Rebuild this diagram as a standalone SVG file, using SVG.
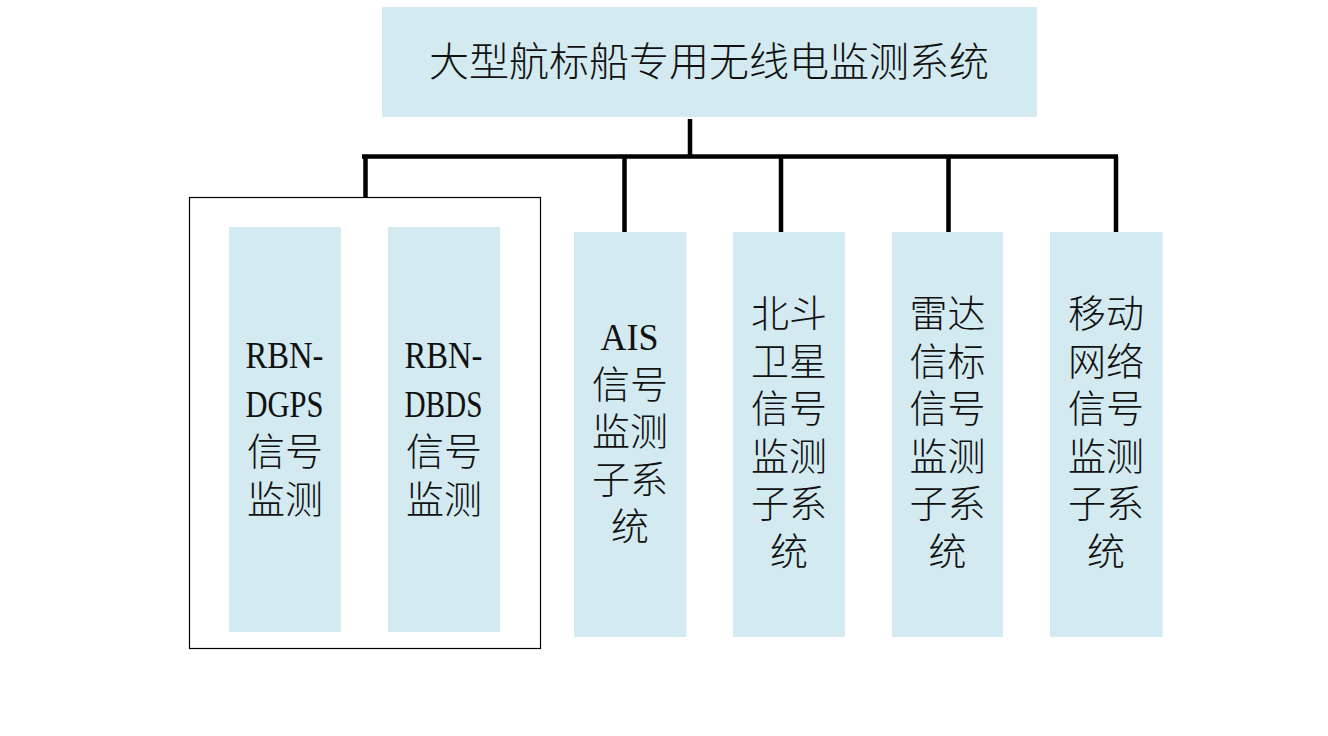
<svg xmlns="http://www.w3.org/2000/svg" width="1328" height="736" viewBox="0 0 1328 736">
<style>
.box{fill:#D2EAF0;stroke:none}
.t{font-family:"Liberation Serif","Noto Sans CJK SC",serif;font-size:38px;font-weight:300;fill:#111;text-anchor:middle}
.tt{font-family:"Liberation Serif","Noto Sans CJK SC",serif;font-size:40px;font-weight:300;fill:#111;text-anchor:middle}
.ln{stroke:#000;stroke-width:4.5;fill:none}
</style>
<rect width="1328" height="736" fill="#fff"/>
<g id="connectors">
<line class="ln" x1="690" y1="119" x2="690" y2="156.5"/>
<line class="ln" x1="362" y1="156.5" x2="1118" y2="156.5"/>
<line class="ln" x1="365.5" y1="156.5" x2="365.5" y2="198"/>
<line class="ln" x1="624.5" y1="156.5" x2="624.5" y2="236"/>
<line class="ln" x1="781" y1="156.5" x2="781" y2="236"/>
<line class="ln" x1="948.5" y1="156.5" x2="948.5" y2="236"/>
<line class="ln" x1="1116" y1="156.5" x2="1116" y2="236"/>
</g>
<g id="root">
<rect class="box" x="382" y="7" width="655" height="110"/>
<text class="tt" x="709" y="76">大型航标船专用无线电监测系统</text>
</g>
<g id="group-rbn">
<rect x="189.5" y="197.5" width="351" height="451" fill="none" stroke="#000" stroke-width="1.2"/>
</g>
<g id="node-dgps">
<rect class="box" x="229" y="227" width="112" height="405"/>
<text class="t" x="284.5" y="368" textLength="78" lengthAdjust="spacingAndGlyphs">RBN-</text>
<text class="t" x="284.5" y="416.5" textLength="78" lengthAdjust="spacingAndGlyphs">DGPS</text>
<text class="t" x="285" y="465">信号</text>
<text class="t" x="285" y="513">监测</text>
</g>
<g id="node-dbds">
<rect class="box" x="388" y="227" width="112" height="405"/>
<text class="t" x="443.5" y="368" textLength="78" lengthAdjust="spacingAndGlyphs">RBN-</text>
<text class="t" x="443.5" y="416.5" textLength="78" lengthAdjust="spacingAndGlyphs">DBDS</text>
<text class="t" x="444" y="465">信号</text>
<text class="t" x="444" y="513">监测</text>
</g>
<g id="node-ais">
<rect class="box" x="574" y="232" width="112.5" height="405"/>
<text class="t" x="629.5" y="350" textLength="58" lengthAdjust="spacingAndGlyphs">AIS</text>
<text class="t" x="630" y="397.5">信号</text>
<text class="t" x="630" y="445">监测</text>
<text class="t" x="630" y="492.5">子系</text>
<text class="t" x="630" y="540">统</text>
</g>
<g id="node-beidou">
<rect class="box" x="733" y="232" width="112" height="405"/>
<text class="t" x="789" y="327">北斗</text>
<text class="t" x="789" y="374.5">卫星</text>
<text class="t" x="789" y="422">信号</text>
<text class="t" x="789" y="469.5">监测</text>
<text class="t" x="789" y="517">子系</text>
<text class="t" x="789" y="564.5">统</text>
</g>
<g id="node-radar">
<rect class="box" x="892" y="232" width="111" height="405"/>
<text class="t" x="947.5" y="327">雷达</text>
<text class="t" x="947.5" y="374.5">信标</text>
<text class="t" x="947.5" y="422">信号</text>
<text class="t" x="947.5" y="469.5">监测</text>
<text class="t" x="947.5" y="517">子系</text>
<text class="t" x="947.5" y="564.5">统</text>
</g>
<g id="node-mobile">
<rect class="box" x="1050" y="232" width="112.5" height="405"/>
<text class="t" x="1106" y="327">移动</text>
<text class="t" x="1106" y="374.5">网络</text>
<text class="t" x="1106" y="422">信号</text>
<text class="t" x="1106" y="469.5">监测</text>
<text class="t" x="1106" y="517">子系</text>
<text class="t" x="1106" y="564.5">统</text>
</g>
</svg>
